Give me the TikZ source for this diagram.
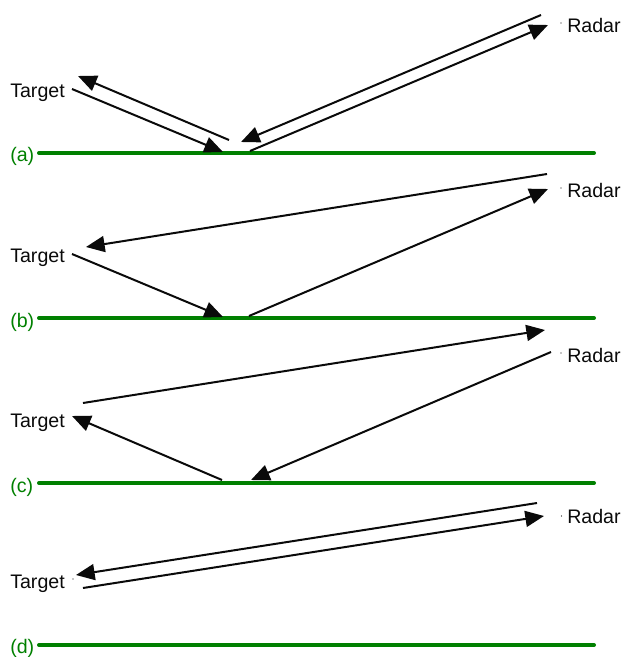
\documentclass[tikz,border=0pt]{standalone}
\usepackage{fontspec}
\setmainfont{Liberation Sans}
\usetikzlibrary{arrows.meta}
\definecolor{ground}{RGB}{0,128,0}
\definecolor{ink}{RGB}{10,10,10}
\tikzset{
  ray/.style={line width=1.5pt, ink},
  rayto/.style={ray, -{Triangle[length=14pt,width=12pt]}},
  surface/.style={line width=3pt, ground, line cap=round},
  lbl/.style={inner sep=0pt, anchor=base west, font=\fontsize{14.7}{17}\selectfont, text=ink},
  caselbl/.style={lbl, text=ground},
  pin/.style={fill=ink}
}
\begin{document}
\begin{tikzpicture}[x=0.75pt,y=-0.75pt]
\useasboundingbox (0,0) rectangle (622,657);

% ---------- (a) reflection from the ground both ways ----------
\node[lbl] (ta) at (10,97) {Target};
\node[lbl] (ra) at (567,32) {Radar};
\node[caselbl] (la) at (10,161) {(a)};
\coordinate (ga1) at (39,153);  \coordinate (ga2) at (594,153);
\draw[surface] (ga1) -- (ga2);
\coordinate (a1s) at (72,89);   \coordinate (a1e) at (223,152);
\coordinate (a2s) at (229,140); \coordinate (a2e) at (78,76);
\coordinate (a3s) at (541,15);  \coordinate (a3e) at (241,142);
\coordinate (a4s) at (250,151); \coordinate (a4e) at (548,25);
\draw[rayto] (a1s) -- (a1e);
\draw[rayto] (a2s) -- (a2e);
\draw[rayto] (a3s) -- (a3e);
\draw[rayto] (a4s) -- (a4e);
\fill[pin] (561,23) circle (0.6);

% ---------- (b) direct in, reflected out ----------
\node[lbl] (tb) at (10,262) {Target};
\node[lbl] (rb) at (567,197) {Radar};
\node[caselbl] (lb) at (10,327) {(b)};
\coordinate (gb1) at (39,318);  \coordinate (gb2) at (594,318);
\draw[surface] (gb1) -- (gb2);
\coordinate (b1s) at (547,174); \coordinate (b1e) at (86,247);
\coordinate (b2s) at (72,254);  \coordinate (b2e) at (223,317);
\coordinate (b3s) at (249,316); \coordinate (b3e) at (548,189);
\draw[rayto] (b1s) -- (b1e);
\draw[rayto] (b2s) -- (b2e);
\draw[rayto] (b3s) -- (b3e);
\fill[pin] (561,188) circle (0.6);

% ---------- (c) reflected in, direct out ----------
\node[lbl] (tc) at (10,427) {Target};
\node[lbl] (rc) at (567,362) {Radar};
\node[caselbl] (lc) at (10,492) {(c)};
\coordinate (gc1) at (39,483);  \coordinate (gc2) at (594,483);
\draw[surface] (gc1) -- (gc2);
\coordinate (c1s) at (83,403);  \coordinate (c1e) at (545,330);
\coordinate (c2s) at (222,480); \coordinate (c2e) at (72,416);
\coordinate (c3s) at (551,352); \coordinate (c3e) at (251,480);
\draw[rayto] (c1s) -- (c1e);
\draw[rayto] (c2s) -- (c2e);
\draw[rayto] (c3s) -- (c3e);
\fill[pin] (561,353) circle (0.6);

% ---------- (d) direct path both ways ----------
\node[lbl] (td) at (10,588) {Target};
\node[lbl] (rd) at (567,523) {Radar};
\node[caselbl] (ld) at (10,653) {(d)};
\coordinate (gd1) at (39,645);  \coordinate (gd2) at (594,645);
\draw[surface] (gd1) -- (gd2);
\coordinate (d1s) at (537,503); \coordinate (d1e) at (76,575);
\coordinate (d2s) at (83,588);  \coordinate (d2e) at (544,516);
\draw[rayto] (d1s) -- (d1e);
\draw[rayto] (d2s) -- (d2e);
\fill[pin] (561.5,516) circle (0.6);
\fill[pin] (73,579) circle (0.6);
\end{tikzpicture}
\end{document}
